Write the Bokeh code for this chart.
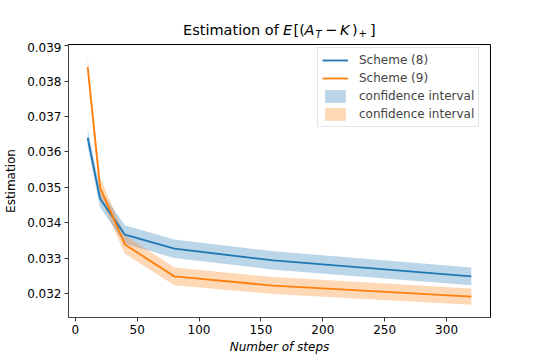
import numpy as np
from bokeh.plotting import figure
from bokeh.layouts import column
from bokeh.models import (Range1d, Legend, LegendItem, SingleIntervalTicker,
                          NumeralTickFormatter, ColumnDataSource, Div)
from bokeh.embed import file_html
from bokeh.resources import INLINE

# ---- data ----
steps = [10, 20, 40, 80, 160, 320]
scheme8 = [0.03640, 0.03468, 0.03367, 0.03327, 0.03294, 0.03249]
scheme9 = [0.03839, 0.03500, 0.03339, 0.03249, 0.03223, 0.03192]
ci8 = [0.00026, 0.00025, 0.00026, 0.00026, 0.00026, 0.00025]
ci9 = [0.00028, 0.00027, 0.00026, 0.00025, 0.00024, 0.00023]
y_ticks_interval = 0.001
x_ticks_interval = 50

BLUE = "#1f77b4"
ORANGE = "#ff7f0e"
FONT = "DejaVu Sans"

s8 = np.array(scheme8); c8 = np.array(ci8)
s9 = np.array(scheme9); c9 = np.array(ci9)
src = ColumnDataSource(dict(x=steps, s8=scheme8, s9=scheme9,
                            lo8=s8 - c8, hi8=s8 + c8, lo9=s9 - c9, hi9=s9 + c9))

W = 537
TH = 42            # title strip height
FL, FT, FW, FH = 68, 44, 422, 273   # frame left/top/width/height (page px)
BOTTOM = 42
H = (FT - TH) + FH + BOTTOM

# ---- title: Estimation of E[(A_T - K)_+] ----
# (text, left px, baseline px, font size px, italic)
title_parts = [
    ("Estimation of", 183, 35, 14.5, False),
    ("E", 283, 35, 14.5, True),
    ("[(", 293.5, 35, 14.5, False),
    ("A", 304.5, 35, 14.5, True),
    ("T", 315.5, 38, 10.0, True),
    ("\u2212", 325, 35, 14.5, False),
    ("K", 340, 35, 14.5, True),
    (")", 352, 35, 14.5, False),
    ("+", 358.5, 37, 10.0, False),
    ("]", 370, 35, 14.5, False),
]
spans = []
for txt, left, base, size, ital in title_parts:
    top = base - ((size - 1.164 * size) / 2 + 0.928 * size)
    spans.append(
        f'<span style="position:absolute;left:{left}px;top:{top:.2f}px;'
        f'font-size:{size}px;line-height:{size}px;white-space:nowrap;'
        f'font-style:{"italic" if ital else "normal"};">{txt}</span>')
title_html = (f'<div style="position:relative;width:{W}px;height:{TH}px;'
              f'font-family:\'{FONT}\';color:black;margin:0;padding:0;">'
              + "".join(spans) + '</div>')
t = Div(text=title_html, width=W, height=TH, margin=(0, 0, 0, 0))

# ---- main plot ----
p = figure(width=W, height=H, output_backend="svg", toolbar_location=None,
           x_range=Range1d(-5.5, 335.5), y_range=Range1d(0.03133, 0.03903),
           min_border_left=FL, min_border_right=W - FL - FW,
           min_border_top=FT - TH, min_border_bottom=BOTTOM)
p.title = None
p.grid.visible = False
p.background_fill_color = "white"
p.border_fill_color = "white"
p.outline_line_color = "black"
p.outline_line_width = 1

band8 = p.varea(x="x", y1="lo8", y2="hi8", source=src, fill_color=BLUE, fill_alpha=0.3)
band9 = p.varea(x="x", y1="lo9", y2="hi9", source=src, fill_color=ORANGE, fill_alpha=0.3)
l8 = p.line(x="x", y="s8", source=src, line_color=BLUE, line_width=1.8)
l9 = p.line(x="x", y="s9", source=src, line_color=ORANGE, line_width=1.8)

for ax in (p.xaxis[0], p.yaxis[0]):
    ax.axis_line_color = "#444444"
    ax.major_tick_line_color = "#333333"
    ax.major_tick_out = 4
    ax.major_tick_in = 0
    ax.minor_tick_line_color = None
    ax.major_label_text_font = FONT
    ax.major_label_text_font_size = "12px"
    ax.major_label_text_color = "black"
    ax.major_label_standoff = 3
    ax.axis_label_text_font = FONT
    ax.axis_label_text_font_size = "12px"
    ax.axis_label_text_color = "black"

p.xaxis[0].axis_label = "Number of steps"
p.xaxis[0].axis_label_text_font_style = "italic"
p.xaxis[0].axis_label_standoff = 3
p.yaxis[0].axis_label = "Estimation"
p.yaxis[0].axis_label_text_font_style = "normal"
p.yaxis[0].axis_label_standoff = 6

p.xaxis[0].ticker = SingleIntervalTicker(interval=x_ticks_interval)
p.yaxis[0].ticker = SingleIntervalTicker(interval=y_ticks_interval)
p.yaxis[0].formatter = NumeralTickFormatter(format="0.000")

legend = Legend(items=[
    LegendItem(label="Scheme (8)", renderers=[l8]),
    LegendItem(label="Scheme (9)", renderers=[l9]),
    LegendItem(label="confidence interval", renderers=[band8]),
    LegendItem(label="confidence interval", renderers=[band9]),
], location=(249, 190), margin=0, padding=4,
    label_text_font=FONT, label_text_font_size="12px",
    glyph_width=26, glyph_height=16, label_height=16, spacing=2, label_standoff=11,
    border_line_color="#cccccc", border_line_width=1,
    background_fill_alpha=0.8)
p.add_layout(legend, "center")

layout = column(t, p, spacing=0)
open("out.html", "w").write(file_html(layout, INLINE))
